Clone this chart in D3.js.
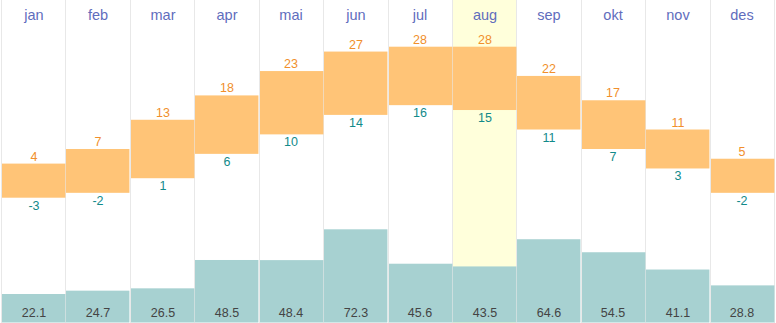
<!DOCTYPE html>
<html><head><meta charset="utf-8">
<script src="https://cdn.jsdelivr.net/npm/d3@7"></script>
<style>html,body{margin:0;padding:0;background:#fff;overflow:hidden}</style>
</head><body>
<script>
const months = ["jan","feb","mar","apr","mai","jun","jul","aug","sep","okt","nov","des"];
const tempMax = [4,7,13,18,23,27,28,28,22,17,11,5];
const tempMin = [-3,-2,1,6,10,14,16,15,11,7,3,-2];
const precip = [22.1,24.7,26.5,48.5,48.4,72.3,45.6,43.5,64.6,54.5,41.1,28.8];
const highlight = "aug";

const W = 776, H = 323;
const svg = d3.select("body").append("svg").attr("width", W).attr("height", H)
  .style("font-family", "Arial, 'Liberation Sans', sans-serif");

const x = d3.scaleBand().domain(months).range([1, 774]).padding(0);
const yT = d3.scaleLinear().domain([-3, 28]).range([197.7, 46.7]);
const yP = d3.scaleLinear().domain([0, 100]).range([322.5, 193.6]);
const cx = m => Math.round(x(m) + x.bandwidth() / 2 + 0.5);

// highlight column
svg.append("rect")
  .attr("x", Math.round(x(highlight)) + 1).attr("y", 0)
  .attr("width", x.bandwidth() - 1).attr("height", H)
  .attr("fill", "#ffffdb");

// column separators
const bounds = months.map(m => x(m)).concat([x(months[11]) + x.bandwidth()]);
svg.selectAll("line.sep").data(bounds).join("line")
  .attr("class", "sep")
  .attr("x1", d => Math.round(d) + 0.5).attr("x2", d => Math.round(d) + 0.5)
  .attr("y1", 0).attr("y2", H)
  .attr("stroke", "#e8e8e8").attr("stroke-width", 1);

// month labels
svg.selectAll("text.month").data(months).join("text")
  .attr("class", "month")
  .attr("x", d => cx(d)).attr("y", 19.5)
  .attr("text-anchor", "middle").attr("font-size", 14.5)
  .attr("fill", "#5f6dbd").text(d => d);

// precip bars
svg.selectAll("rect.prec").data(precip).join("rect")
  .attr("class", "prec")
  .attr("x", (d, i) => Math.round(x(months[i])) + 1)
  .attr("width", x.bandwidth() - 1)
  .attr("y", d => yP(d)).attr("height", d => yP(0) - yP(d))
  .attr("fill", "#a7d1d1");

svg.selectAll("text.prec").data(precip).join("text")
  .attr("class", "prec")
  .attr("x", (d, i) => cx(months[i])).attr("y", 317)
  .attr("text-anchor", "middle").attr("font-size", 12.5)
  .attr("fill", "#444").text(d => d.toFixed(1));

// temp bars
svg.selectAll("rect.temp").data(months).join("rect")
  .attr("class", "temp")
  .attr("x", d => Math.round(x(d)) + 1)
  .attr("width", x.bandwidth() - 1)
  .attr("y", (d, i) => yT(tempMax[i]))
  .attr("height", (d, i) => yT(tempMin[i]) - yT(tempMax[i]))
  .attr("fill", "#ffc477");

svg.selectAll("text.tmax").data(tempMax).join("text")
  .attr("class", "tmax")
  .attr("x", (d, i) => cx(months[i]))
  .attr("y", d => yT(d) - 3)
  .attr("text-anchor", "middle").attr("font-size", 12.5)
  .attr("fill", "#f18f2c").text(d => d);

svg.selectAll("text.tmin").data(tempMin).join("text")
  .attr("class", "tmin")
  .attr("x", (d, i) => cx(months[i]))
  .attr("y", d => yT(d) + 12)
  .attr("text-anchor", "middle").attr("font-size", 12.5)
  .attr("fill", "#128a8a").text(d => d);
</script>
</body></html>
